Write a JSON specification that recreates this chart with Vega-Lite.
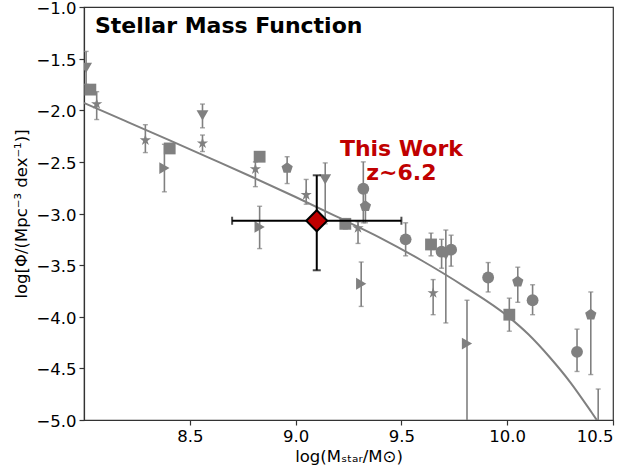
{
  "$schema": "https://vega.github.io/schema/vega-lite/v6.json",
  "width": 529,
  "height": 413,
  "padding": {"left": 84, "top": 7, "right": 21, "bottom": 49},
  "autosize": {"type": "none"},
  "background": "white",
  "datasets": {
    "lit": [
      {"M": 8.01, "y": -1.59, "lo": -1.75, "hi": -1.43, "marker": "tri_down"},
      {"M": 8.03, "y": -1.80, "lo": -1.84, "hi": -1.76, "marker": "square"},
      {"M": 8.06, "y": -1.94, "lo": -2.09, "hi": -1.82, "marker": "star"},
      {"M": 8.29, "y": -2.29, "lo": -2.41, "hi": -2.14, "marker": "star"},
      {"M": 8.38, "y": -2.56, "lo": -2.79, "hi": -2.33, "marker": "tri_right"},
      {"M": 8.405, "y": -2.37, "lo": -2.40, "hi": -2.34, "marker": "square"},
      {"M": 8.56, "y": -2.05, "lo": -2.17, "hi": -1.94, "marker": "tri_down"},
      {"M": 8.56, "y": -2.32, "lo": -2.40, "hi": -2.24, "marker": "star"},
      {"M": 8.83, "y": -2.45, "lo": -2.48, "hi": -2.42, "marker": "square"},
      {"M": 8.81, "y": -2.57, "lo": -2.74, "hi": -2.50, "marker": "star"},
      {"M": 8.83, "y": -3.13, "lo": -3.34, "hi": -2.93, "marker": "tri_right"},
      {"M": 8.96, "y": -2.56, "lo": -2.71, "hi": -2.45, "marker": "pentagon"},
      {"M": 9.05, "y": -2.82, "lo": -2.91, "hi": -2.67, "marker": "star"},
      {"M": 9.14, "y": -2.67, "lo": -3.10, "hi": -2.51, "marker": "tri_down"},
      {"M": 9.32, "y": -2.76, "lo": -3.09, "hi": -2.50, "marker": "circle"},
      {"M": 9.33, "y": -2.93, "lo": -3.09, "hi": -2.80, "marker": "pentagon"},
      {"M": 9.235, "y": -3.10, "lo": -3.15, "hi": -3.05, "marker": "square"},
      {"M": 9.295, "y": -3.14, "lo": -3.29, "hi": -3.08, "marker": "star"},
      {"M": 9.31, "y": -3.68, "lo": -3.90, "hi": -3.47, "marker": "tri_right"},
      {"M": 9.52, "y": -3.25, "lo": -3.41, "hi": -3.09, "marker": "circle"},
      {"M": 9.64, "y": -3.30, "lo": -3.41, "hi": -3.19, "marker": "square"},
      {"M": 9.69, "y": -3.37, "lo": -3.53, "hi": -3.25, "marker": "circle"},
      {"M": 9.71, "y": -3.40, "lo": -4.06, "hi": -3.16, "marker": "tri_down"},
      {"M": 9.735, "y": -3.35, "lo": -3.51, "hi": -3.21, "marker": "circle"},
      {"M": 9.65, "y": -3.77, "lo": -3.98, "hi": -3.64, "marker": "star"},
      {"M": 9.81, "y": -4.26, "lo": -5.6, "hi": -3.84, "marker": "tri_right"},
      {"M": 9.91, "y": -3.62, "lo": -3.76, "hi": -3.475, "marker": "circle"},
      {"M": 10.05, "y": -3.66, "lo": -3.86, "hi": -3.52, "marker": "pentagon"},
      {"M": 10.12, "y": -3.84, "lo": -3.98, "hi": -3.69, "marker": "circle"},
      {"M": 10.01, "y": -3.98, "lo": -4.14, "hi": -3.82, "marker": "square"},
      {"M": 10.33, "y": -4.34, "lo": -4.53, "hi": -4.12, "marker": "circle"},
      {"M": 10.395, "y": -3.98, "lo": -4.56, "hi": -3.76, "marker": "pentagon"},
      {"M": 10.53, "y": -4.65, "lo": -4.80, "hi": -4.50, "marker": "circle"},
      {"M": 10.43, "y": -5.2, "lo": -5.7, "hi": -4.70, "marker": "circle"}
    ],
    "curve": [
      {"M": 8.0, "y": -1.93},
      {"M": 8.2, "y": -2.108},
      {"M": 8.4, "y": -2.287},
      {"M": 8.6, "y": -2.468},
      {"M": 8.8, "y": -2.651},
      {"M": 9.0, "y": -2.84},
      {"M": 9.2, "y": -3.036},
      {"M": 9.4, "y": -3.235},
      {"M": 9.6, "y": -3.46},
      {"M": 9.8, "y": -3.71},
      {"M": 10.0, "y": -3.99},
      {"M": 10.1, "y": -4.17},
      {"M": 10.2, "y": -4.39},
      {"M": 10.3, "y": -4.64},
      {"M": 10.4, "y": -4.93},
      {"M": 10.45, "y": -5.08}
    ],
    "this": [
      {"M": 9.10, "y": -3.07, "xlo": 8.70, "xhi": 9.50, "ylo": -3.55, "yhi": -2.63}
    ],
    "labels": [
      {"M": 9.5, "y": -2.441, "text": "This Work"},
      {"M": 9.5, "y": -2.674, "text": "z~6.2"}
    ],
    "title": [
      {"M": 8.052, "y": -1.249, "text": "Stellar Mass Function"}
    ]
  },
  "encoding": {
    "x": {
      "field": "M", "type": "quantitative",
      "scale": {"domain": [8.0, 10.5], "nice": false, "zero": false},
      "axis": {"values": [8.5, 9.0, 9.5, 10.0, 10.5], "format": ".1f", "title": "log(Mₛₜₐᵣ/M⊙)", "titlePadding": 4, "labelPadding": 3}
    },
    "y": {
      "field": "y", "type": "quantitative",
      "scale": {"domain": [-5, -1], "nice": false, "zero": false},
      "axis": {"values": [-5, -4.5, -4, -3.5, -3, -2.5, -2, -1.5, -1], "format": ".1f", "title": "log[Φ/(Mpc⁻³ dex⁻¹)]", "titlePadding": 6, "labelPadding": 3, "labelOffset": 1.5}
    }
  },
  "layer": [
    {
      "data": {"name": "curve"},
      "mark": {"type": "line", "color": "#808080", "strokeWidth": 2, "clip": true, "interpolate": "monotone"},
      "encoding": {}
    },
    {
      "data": {"name": "lit"},
      "mark": {"type": "rule", "color": "#808080", "strokeWidth": 1.6, "clip": true},
      "encoding": {"y": {"field": "lo", "type": "quantitative"}, "y2": {"field": "hi"}}
    },
    {
      "data": {"name": "lit"},
      "mark": {"type": "tick", "orient": "horizontal", "color": "#808080", "size": 5, "thickness": 1.4, "clip": true},
      "encoding": {"y": {"field": "lo", "type": "quantitative"}}
    },
    {
      "data": {"name": "lit"},
      "mark": {"type": "tick", "orient": "horizontal", "color": "#808080", "size": 5, "thickness": 1.4, "clip": true},
      "encoding": {"y": {"field": "hi", "type": "quantitative"}}
    },
    {
      "data": {"name": "lit"},
      "mark": {"type": "point", "filled": true, "color": "#808080", "opacity": 1, "size": 140, "clip": true},
      "encoding": {
        "shape": {
          "field": "marker", "type": "nominal", "legend": null,
          "scale": {
            "domain": ["circle", "square", "tri_down", "tri_right", "star", "pentagon"],
            "range": ["circle", "square", "triangle-down", "triangle-right",
              "M0,-1L0.2245,-0.309L0.951,-0.309L0.363,0.118L0.588,0.809L0,0.382L-0.588,0.809L-0.363,0.118L-0.951,-0.309L-0.2245,-0.309Z",
              "M0,-1L0.951,-0.309L0.588,0.809L-0.588,0.809L-0.951,-0.309Z"]
          }
        }
      }
    },
    {
      "data": {"name": "this"},
      "mark": {"type": "rule", "color": "black", "strokeWidth": 2},
      "encoding": {"y": {"field": "ylo", "type": "quantitative"}, "y2": {"field": "yhi"}}
    },
    {
      "data": {"name": "this"},
      "mark": {"type": "rule", "color": "black", "strokeWidth": 2},
      "encoding": {"x": {"field": "xlo", "type": "quantitative"}, "x2": {"field": "xhi"}}
    },
    {
      "data": {"name": "this"},
      "mark": {"type": "tick", "orient": "horizontal", "color": "black", "size": 8, "thickness": 2},
      "encoding": {"y": {"field": "ylo", "type": "quantitative"}}
    },
    {
      "data": {"name": "this"},
      "mark": {"type": "tick", "orient": "horizontal", "color": "black", "size": 8, "thickness": 2},
      "encoding": {"y": {"field": "yhi", "type": "quantitative"}}
    },
    {
      "data": {"name": "this"},
      "mark": {"type": "tick", "orient": "vertical", "color": "black", "size": 8, "thickness": 2},
      "encoding": {"x": {"field": "xlo", "type": "quantitative"}}
    },
    {
      "data": {"name": "this"},
      "mark": {"type": "tick", "orient": "vertical", "color": "black", "size": 8, "thickness": 2},
      "encoding": {"x": {"field": "xhi", "type": "quantitative"}}
    },
    {
      "data": {"name": "this"},
      "mark": {"type": "point", "shape": "diamond", "filled": true, "fill": "#c00000", "stroke": "black", "strokeWidth": 2, "opacity": 1, "size": 440},
      "encoding": {}
    },
    {
      "data": {"name": "labels"},
      "mark": {"type": "text", "font": "DejaVu Sans", "fontSize": 22, "fontWeight": "bold", "color": "#c00000", "align": "center", "baseline": "alphabetic"},
      "encoding": {"text": {"field": "text"}}
    },
    {
      "data": {"name": "title"},
      "mark": {"type": "text", "font": "DejaVu Sans", "fontSize": 22, "fontWeight": "bold", "color": "black", "align": "left", "baseline": "alphabetic"},
      "encoding": {"text": {"field": "text"}}
    }
  ],
  "config": {
    "font": "DejaVu Sans",
    "view": {"stroke": "#333333", "strokeWidth": 1.2},
    "axis": {
      "grid": false,
      "domainColor": "#333333",
      "domainWidth": 1.2,
      "tickColor": "#333333",
      "tickSize": 5,
      "tickWidth": 1.2,
      "labelColor": "black",
      "labelFont": "DejaVu Sans",
      "labelFontSize": 16.5,
      "titleFont": "DejaVu Sans",
      "titleFontSize": 16.5,
      "titleFontWeight": "normal",
      "titleColor": "black"
    }
  }
}
